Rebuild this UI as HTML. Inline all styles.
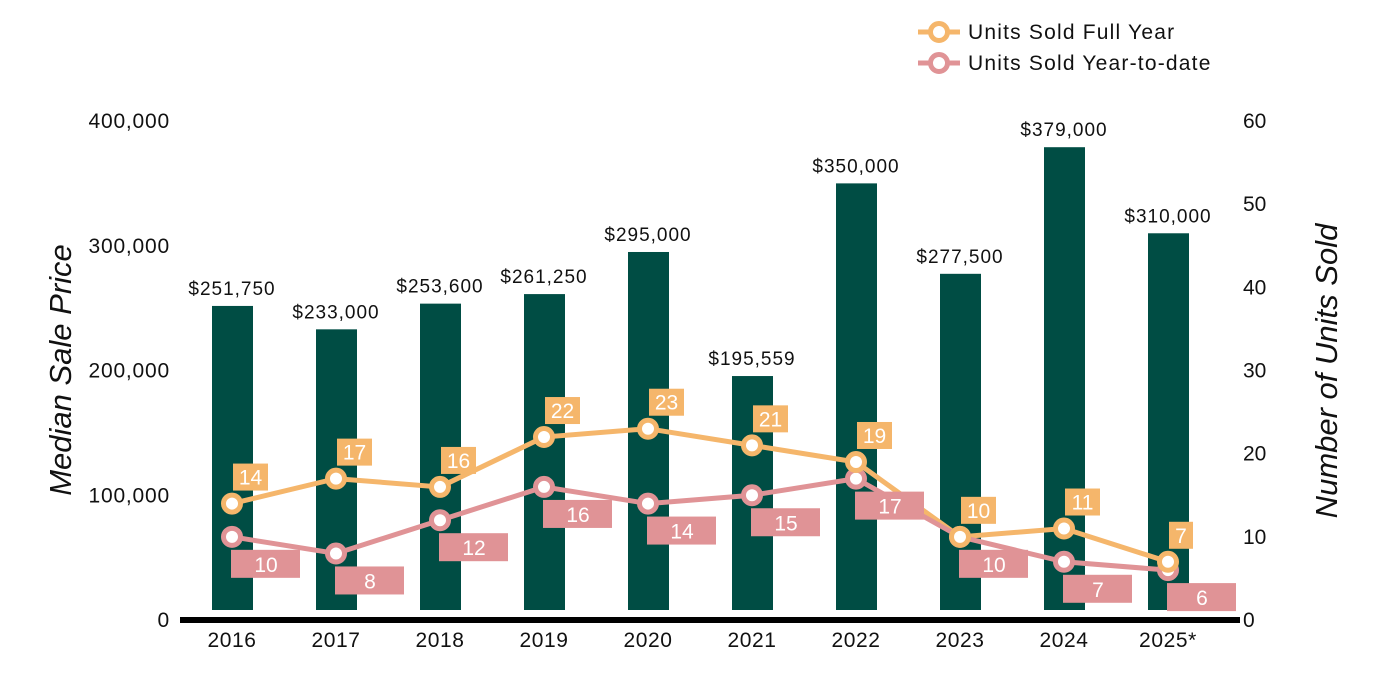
<!DOCTYPE html>
<html><head><meta charset="utf-8"><style>
body{margin:0;background:#fff;font-family:"Liberation Sans",Arial,sans-serif}
svg{display:block}
</style></head><body>
<svg id="chart" width="1400" height="700" xmlns="http://www.w3.org/2000/svg" font-family="Liberation Sans, Arial, sans-serif"></svg>
<script>
const years=["2016","2017","2018","2019","2020","2021","2022","2023","2024","2025*"];
const prices=[251750,233000,253600,261250,295000,195559,350000,277500,379000,310000];
const priceLabels=["$251,750","$233,000","$253,600","$261,250","$295,000","$195,559","$350,000","$277,500","$379,000","$310,000"];
const fullYear=[14,17,16,22,23,21,19,10,11,7];
const ytd=[10,8,12,16,14,15,17,10,7,6];
const leftTicks=[0,100000,200000,300000,400000];
const leftTickLabels=["0","100,000","200,000","300,000","400,000"];
const rightTicks=[0,10,20,30,40,50,60];

const NS="http://www.w3.org/2000/svg";
const svg=document.getElementById('chart');
const Y0=620,YT=121;
const yL=v=>Y0-(Y0-YT)*v/400000;
const yR=v=>Y0-(Y0-YT)*v/60;
const xC=i=>232+i*104;
function el(t,a,txt){const e=document.createElementNS(NS,t);for(const k in a)e.setAttribute(k,a[k]);if(txt!==undefined)e.textContent=txt;svg.appendChild(e);return e;}

leftTicks.forEach((v,i)=>{const t=el('text',{x:170,y:yL(v)+7,'text-anchor':'end','font-size':21,'letter-spacing':0.8,fill:'#111'},leftTickLabels[i]);
});
rightTicks.forEach(v=>{const t=el('text',{x:1243,y:yR(v)+7,'font-size':21,fill:'#111'},String(v));
});

let t=el('text',{transform:'translate(71,370) rotate(-90)','text-anchor':'middle','font-size':31,'font-style':'italic',fill:'#111'},'Median Sale Price');

t=el('text',{transform:'translate(1337,371) rotate(-90)','text-anchor':'middle','font-size':31,'font-style':'italic',fill:'#111'},'Number of Units Sold');


prices.forEach((p,i)=>{
 const b=el('rect',{x:xC(i)-20,y:yL(p),width:41,height:610-yL(p),fill:'#004d44'});
 
 const l=el('text',{x:xC(i),y:yL(p)-11,'text-anchor':'middle','font-size':19,'letter-spacing':1,fill:'#111'},priceLabels[i]);
 
 const xl=el('text',{x:xC(i),y:647,'text-anchor':'middle','font-size':21,'letter-spacing':0.6,fill:'#111'},years[i]);
 
});
const ax=el('rect',{x:180,y:617,width:1060,height:6,fill:'#000'});


function series(vals,color,name){
 const pl=el('polyline',{points:vals.map((v,i)=>xC(i)+','+yR(v)).join(' '),fill:'none',stroke:color,'stroke-width':5});
 
}
series(fullYear,'#f5b66b','full-year');
series(ytd,'#e09396','ytd');
function markers(vals,color,name){
 vals.forEach((v,i)=>{const c=el('circle',{cx:xC(i),cy:yR(v),r:8.5,fill:'#fff',stroke:color,'stroke-width':5});
 });}
markers(ytd,'#e09396','ytd');
ytd.forEach((v,i)=>{const y=yR(v);
 const r=el('rect',{x:xC(i)-1,y:y+13,width:69,height:28,fill:'#e09396'});
 
 const tx=el('text',{x:xC(i)+34,y:y+35,'text-anchor':'middle','font-size':21,fill:'#fff'},String(v));
 });
markers(fullYear,'#f5b66b','full-year');
fullYear.forEach((v,i)=>{const y=yR(v);
 const w=String(v).length>1?35:24;
 const r=el('rect',{x:xC(i)+1,y:y-40,width:w,height:27,fill:'#f5b66b'});
 
 const tx=el('text',{x:xC(i)+1+w/2,y:y-19,'text-anchor':'middle','font-size':21,fill:'#fff'},String(v));
 });

[['Units Sold Full Year','#f5b66b',32],['Units Sold Year-to-date','#e09396',63]].forEach(([n,c,y])=>{
 const g=el('line',{x1:918,x2:960,y1:y,y2:y,stroke:c,'stroke-width':5});
 
 const ci=el('circle',{cx:939,cy:y,r:8.5,fill:'#fff',stroke:c,'stroke-width':5});
 
 const tx=el('text',{x:968,y:y+7,'font-size':21,'letter-spacing':1.2,fill:'#111'},n);
 
});
</script>
</body></html>
